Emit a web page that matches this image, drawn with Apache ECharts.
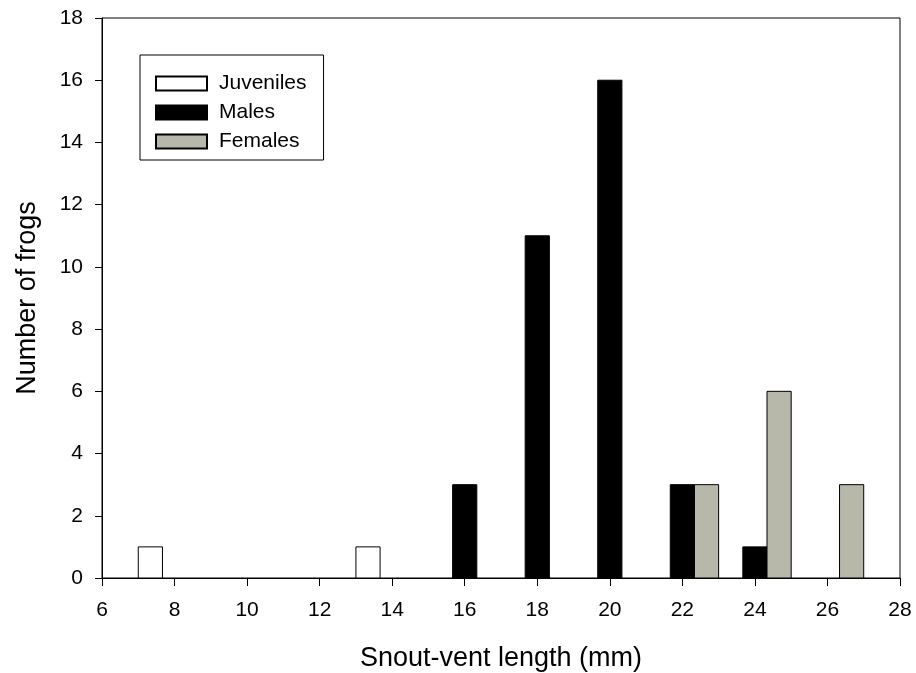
<!DOCTYPE html>
<html>
<head>
<meta charset="utf-8">
<script src="https://cdn.jsdelivr.net/npm/echarts@6/dist/echarts.min.js"></script>
<style>
  html, body { margin: 0; padding: 0; background: #fff; }
  #chart { width: 916px; height: 673px; }
</style>
</head>
<body>
<div id="chart"></div>
<script>
// bin centres (mm) and counts per group
const binCentres = [8, 10, 12, 14, 16, 18, 20, 22, 24, 26];
const juveniles = [1, 0, 0, 1, 0, 0, 0, 0, 0, 0];
const males = [0, 0, 0, 0, 3, 11, 16, 3, 1, 0];
const females = [0, 0, 0, 0, 0, 0, 0, 3, 6, 3];

const xTicks = [6, 8, 10, 12, 14, 16, 18, 20, 22, 24, 26, 28];
const yTicks = [0, 2, 4, 6, 8, 10, 12, 14, 16, 18];

// three bars share each 2 mm bin
const barW = 2 / 3;
const FONT = "Liberation Sans, Arial, sans-serif";

function toPoints(counts, offset) {
    return binCentres.map((c, i) => [c + offset, counts[i]]);
}

function renderBar(params, api) {
    const x = api.value(0);
    const y = api.value(1);
    if (!y) return null;
    const p0 = api.coord([x - barW / 2, y]);
    const p1 = api.coord([x + barW / 2, 0]);
    return {
        type: "rect",
        shape: { x: p0[0], y: p0[1], width: p1[0] - p0[0], height: p1[1] - p0[1] },
        style: api.style()
    };
}

const chart = echarts.init(document.getElementById("chart"));

const groups = [
    { name: "Juveniles", data: juveniles, offset: -barW, color: "#ffffff" },
    { name: "Males", data: males, offset: 0, color: "#000000" },
    { name: "Females", data: females, offset: barW, color: "#b7b7aa" }
];

chart.setOption({
    animation: false,
    textStyle: { fontFamily: FONT, color: "#000" },
    grid: {
        left: 102, right: 16, top: 18, bottom: 95,
        outerBoundsMode: "none",
        containLabel: false,
        show: true, borderColor: "#000", borderWidth: 1
    },
    legend: {
        orient: "vertical",
        left: 140,
        top: 55,
        padding: [18, 17, 8, 15],
        borderColor: "#000",
        borderWidth: 1,
        itemWidth: 51,
        itemHeight: 14,
        itemGap: 8,
        icon: "rect",
        selectedMode: false,
        textStyle: { fontSize: 21, fontFamily: FONT, color: "#000", padding: [0, 0, 0, 7] },
        data: groups.map(g => g.name)
    },
    xAxis: {
        type: "value",
        min: xTicks[0],
        max: xTicks[xTicks.length - 1],
        interval: 2,
        name: "Snout-vent length (mm)",
        nameLocation: "middle",
        nameGap: 67,
        nameTextStyle: { fontSize: 27, fontFamily: FONT, color: "#000" },
        axisLine: { show: true, lineStyle: { color: "#000", width: 1 } },
        axisTick: { show: true, inside: false, length: 8, lineStyle: { color: "#000" } },
        axisLabel: { fontSize: 21, fontFamily: FONT, color: "#000", margin: 22 },
        splitLine: { show: false }
    },
    yAxis: {
        type: "value",
        min: yTicks[0],
        max: yTicks[yTicks.length - 1],
        interval: 2,
        name: "Number of frogs",
        nameLocation: "middle",
        nameGap: 61,
        nameTextStyle: { fontSize: 27, fontFamily: FONT, color: "#000" },
        axisLine: { show: true, lineStyle: { color: "#000", width: 1 } },
        axisTick: { show: true, inside: false, length: 7, lineStyle: { color: "#000" } },
        axisLabel: { fontSize: 21, fontFamily: FONT, color: "#000", margin: 19 },
        splitLine: { show: false }
    },
    series: groups.map(g => ({
        name: g.name,
        type: "custom",
        renderItem: renderBar,
        encode: { x: 0, y: 1 },
        itemStyle: { color: g.color, borderColor: "#000", borderWidth: 1 },
        data: toPoints(g.data, g.offset)
    }))
});
</script>
</body>
</html>
